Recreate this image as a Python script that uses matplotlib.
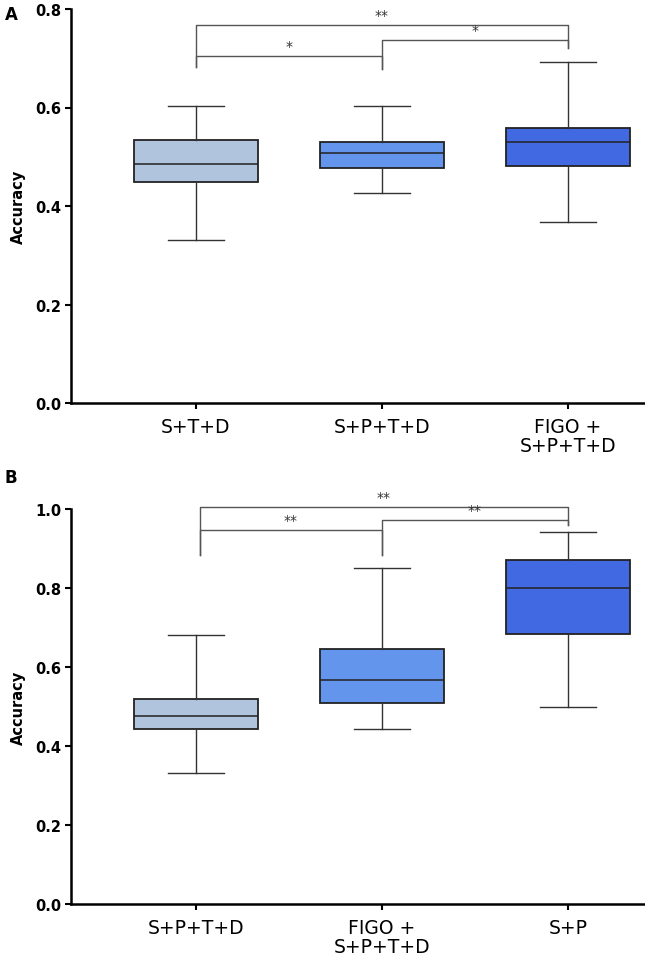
import matplotlib
matplotlib.use("Agg")
import matplotlib.pyplot as plt

plt.rcParams['font.family'] = ['DejaVu Sans']

# ---- Data ----
cats_a = ["S+T+D", "S+P+T+D", "FIGO +\nS+P+T+D"]
whislo_a = [0.330, 0.426, 0.368]
q1_a = [0.448, 0.478, 0.481]
med_a = [0.485, 0.508, 0.530]
q3_a = [0.535, 0.530, 0.558]
whishi_a = [0.604, 0.604, 0.693]

cats_b = ["S+P+T+D", "FIGO +\nS+P+T+D", "S+P"]
whislo_b = [0.331, 0.442, 0.500]
q1_b = [0.442, 0.510, 0.684]
med_b = [0.477, 0.568, 0.800]
q3_b = [0.520, 0.646, 0.871]
whishi_b = [0.682, 0.851, 0.942]

colors = ["#b0c4de", "#6495ed", "#4169e1"]

# significance brackets: (x left, x right, bar height, left leg bottom, right leg bottom, label)
sig_a = [(1.0, 3.0, 0.768, 0.682, 0.720, "**"),
         (1.0, 2.0, 0.705, 0.682, 0.679, "*"),
         (2.0, 3.0, 0.737, 0.679, 0.720, "*")]
sig_b = [(1.02, 3.0, 1.005, 0.884, 0.960, "**"),
         (1.02, 2.0, 0.947, 0.884, 0.884, "**"),
         (2.0, 3.0, 0.972, 0.884, 0.960, "**")]

fig = plt.figure(figsize=(6.45, 9.62), dpi=100)
ax_a = fig.add_axes([71 / 645, 1 - 404 / 962, 1 - 71 / 645, 394 / 962])
ax_b = fig.add_axes([71 / 645, 1 - 905 / 962, 1 - 71 / 645, 395 / 962])


def draw(ax, cats, lo, q1, med, q3, hi, ymax, yticks, sigs):
    pos = list(range(1, len(cats) + 1))
    stats = []
    for k in range(len(cats)):
        stats.append(dict(whislo=lo[k], q1=q1[k], med=med[k], q3=q3[k],
                          whishi=hi[k], fliers=[], label=cats[k]))
    bp = ax.bxp(stats, positions=pos, widths=0.667, patch_artist=True,
                showfliers=False,
                boxprops=dict(edgecolor="#222222", linewidth=1.3),
                medianprops=dict(color="#222222", linewidth=1.1),
                whiskerprops=dict(color="#333333", linewidth=1.0),
                capprops=dict(color="#333333", linewidth=1.0),
                capwidths=0.306)
    for patch, c in zip(bp['boxes'], colors):
        patch.set_facecolor(c)
    for (xi, xj, h, l1, l2, lab) in sigs:
        ax.plot([xi, xi, xj, xj], [l1, h, h, l2], color="#555555",
                linewidth=1.0, clip_on=False)
        ax.text((xi + xj) / 2, h + 0.006 * ymax / 0.8, lab, ha="center",
                va="bottom", fontsize=10, color="#333333")
    ax.set_xlim(0.328, 3.414)
    ax.set_ylim(0, ymax)
    ax.set_yticks(yticks)
    ax.set_yticklabels([f"{t:.1f}" for t in yticks], fontweight="bold",
                       fontsize=10.5)
    ax.set_xticks(pos)
    ax.set_xticklabels(cats, fontsize=13.5, linespacing=1.0)
    ax.spines['top'].set_visible(False)
    ax.spines['right'].set_visible(False)
    ax.spines['left'].set_linewidth(1.8)
    ax.spines['bottom'].set_linewidth(1.8)
    ax.tick_params(axis='both', width=1.5, length=4, pad=3)
    ax.tick_params(axis='x', pad=6)
    ax.set_ylabel("Accuracy", fontweight="bold", fontsize=10.5, labelpad=7)


draw(ax_a, cats_a, whislo_a, q1_a, med_a, q3_a, whishi_a, 0.8,
     [0.0, 0.2, 0.4, 0.6, 0.8], sig_a)
draw(ax_b, cats_b, whislo_b, q1_b, med_b, q3_b, whishi_b, 1.0,
     [0.0, 0.2, 0.4, 0.6, 0.8, 1.0], sig_b)

fig.text(5 / 645, 1 - 15 / 962, "A", fontsize=12, fontweight="bold",
         ha="left", va="center")
fig.text(5 / 645, 1 - 478 / 962, "B", fontsize=12, fontweight="bold",
         ha="left", va="center")

fig.savefig("out.png", dpi=100)
